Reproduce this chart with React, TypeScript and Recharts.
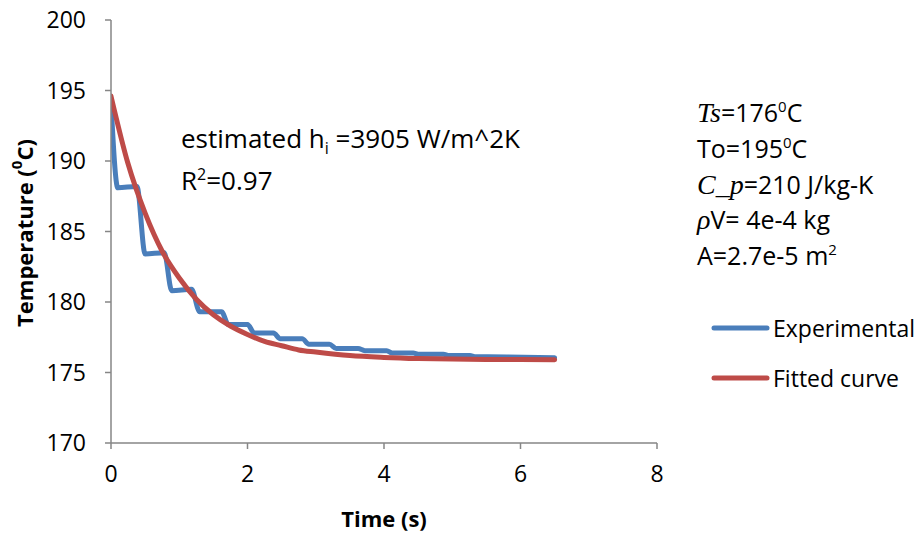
import React from 'react';
import { LineChart, Line, XAxis, YAxis } from 'recharts';

const expTime = [0, 0.1, 0.38, 0.5, 0.78, 0.89, 1.18, 1.3, 1.62, 1.72, 2.0, 2.1, 2.38, 2.48, 2.8, 2.9, 3.2, 3.3, 3.62, 3.72, 4.04, 4.12, 4.43, 4.5, 4.87, 4.95, 5.26, 5.33, 5.8, 6.5];
const expTemp = [194.2, 188.1, 188.2, 183.4, 183.5, 180.8, 180.9, 179.3, 179.3, 178.4, 178.4, 177.8, 177.8, 177.4, 177.4, 177.0, 177.0, 176.7, 176.7, 176.55, 176.55, 176.38, 176.38, 176.3, 176.3, 176.2, 176.2, 176.12, 176.1, 176.05];

const fitTime = [0, 0.25, 0.5, 0.75, 1, 1.25, 1.5, 1.75, 2, 2.25, 2.5, 2.75, 3, 3.5, 4, 4.5, 5, 5.5, 6, 6.5];
const fitTemp = [194.6, 189.8, 186.3, 183.6, 181.7, 180.2, 179.1, 178.3, 177.7, 177.2, 176.9, 176.6, 176.45, 176.2, 176.07, 175.99, 175.95, 175.93, 175.92, 175.91];

const xTicks = [0, 2, 4, 6, 8];
const yTicks = [170, 175, 180, 185, 190, 195, 200];

const expData = expTime.map((t, i) => ({ t, v: expTemp[i] }));
const fitData = fitTime.map((t, i) => ({ t, v: fitTemp[i] }));

const BLUE = '#4A7EBB';
const RED = '#BE4B48';
const AXIS = '#868686';
const FONT = '"Open Sans", sans-serif';
const MATH = '"Liberation Serif", "DejaVu Serif", serif';

export default function App() {
  return (
    <div style={{ position: 'absolute', left: 0, top: 0, width: 921, height: 535, background: '#fff' }}>
      <LineChart width={921} height={535} margin={{ top: 20, right: 264, bottom: 0, left: 0 }}>
        <XAxis
          type="number"
          dataKey="t"
          domain={[0, 8]}
          ticks={xTicks}
          allowDataOverflow
          height={92}
          tickSize={6}
          tickMargin={17}
          stroke={AXIS}
          axisLine={{ stroke: AXIS, strokeWidth: 1.5 }}
          tickLine={{ stroke: AXIS, strokeWidth: 1.5 }}
          tick={{ fill: '#000', fontSize: 23, fontFamily: FONT }}
        />
        <YAxis
          type="number"
          domain={[170, 200]}
          ticks={yTicks}
          width={111}
          tickSize={6}
          tickMargin={19}
          stroke={AXIS}
          axisLine={{ stroke: AXIS, strokeWidth: 1.5 }}
          tickLine={{ stroke: AXIS, strokeWidth: 1.5 }}
          tick={{ fill: '#000', fontSize: 23, fontFamily: FONT }}
        />
        <Line data={expData} dataKey="v" type="monotone" stroke={BLUE} strokeWidth={5} dot={false} strokeLinecap="round" strokeLinejoin="round" isAnimationActive={false} />
        <Line data={fitData} dataKey="v" type="monotone" stroke={RED} strokeWidth={5} dot={false} strokeLinecap="round" strokeLinejoin="round" isAnimationActive={false} />
      </LineChart>
      <svg width={921} height={535} style={{ position: 'absolute', left: 0, top: 0, pointerEvents: 'none' }}>
        <text x={24} y={233} transform="rotate(-90 24 233)" textAnchor="middle" dominantBaseline="central" fontFamily={FONT} fontWeight="bold" fontSize={22} fill="#000">
          Temperature (<tspan fontSize={15} dy={-8}>0</tspan><tspan dy={8}>C)</tspan>
        </text>
        <text x={384} y={518} textAnchor="middle" dominantBaseline="central" fontFamily={FONT} fontWeight="bold" fontSize={22} fill="#000">Time (s)</text>

        <text x={181} y={148} fontFamily={FONT} fontSize={26} fill="#000">
          estimated h<tspan fontSize={16} dy={6}>i</tspan><tspan dy={-6}> =3905 W/m^2K</tspan>
        </text>
        <text x={181} y={190} fontFamily={FONT} fontSize={26} fill="#000">
          R<tspan fontSize={16} dy={-10}>2</tspan><tspan dy={10}>=0.97</tspan>
        </text>

        <g fontFamily={FONT} fontSize={25} fill="#000">
          <text x={697} y={122}>
            <tspan fontFamily={MATH} fontStyle="italic" fontSize={28}>Ts</tspan>=176<tspan fontSize={15} dy={-10}>0</tspan><tspan dy={10}>C</tspan>
          </text>
          <text x={697} y={158}>
            To=195<tspan fontSize={15} dy={-10}>0</tspan><tspan dy={10}>C</tspan>
          </text>
          <text x={697} y={194}>
            <tspan fontFamily={MATH} fontStyle="italic" fontSize={28}>C_p</tspan>=210 J/kg-K
          </text>
          <text x={697} y={229}>
            <tspan fontFamily={MATH} fontStyle="italic" fontSize={28}>ρ</tspan>V= 4e-4 kg
          </text>
          <text x={697} y={265}>
            A=2.7e-5 m<tspan fontSize={15} dy={-10}>2</tspan>
          </text>
        </g>

        <line x1={714} y1={328} x2={767} y2={328} stroke={BLUE} strokeWidth={5} strokeLinecap="round" />
        <text x={773} y={328} dominantBaseline="central" fontFamily={FONT} fontSize={23} fill="#000">Experimental</text>
        <line x1={714} y1={378} x2={767} y2={378} stroke={RED} strokeWidth={5} strokeLinecap="round" />
        <text x={773} y={378} dominantBaseline="central" fontFamily={FONT} fontSize={23} fill="#000">Fitted curve</text>
      </svg>
    </div>
  );
}
